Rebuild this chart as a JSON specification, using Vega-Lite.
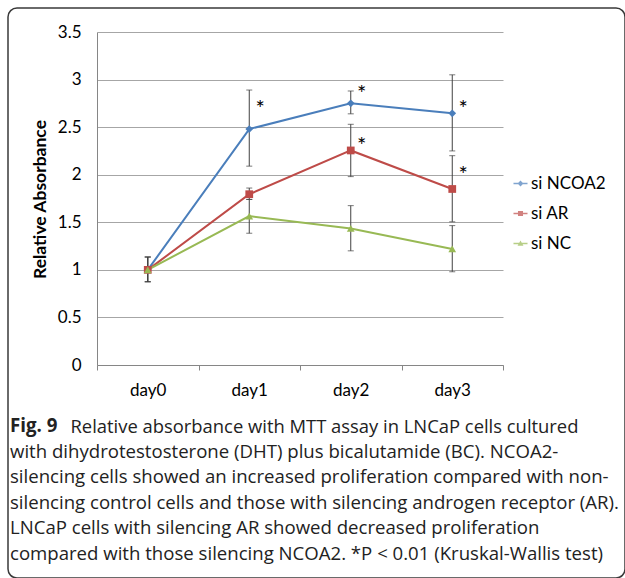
{
  "$schema": "https://vega.github.io/schema/vega-lite/v6.json",
  "width": 617,
  "height": 570,
  "autosize": "none",
  "padding": {"left": 8, "top": 8, "right": 0, "bottom": 0},
  "background": "white",
  "view": {"stroke": "#3a3a3a", "strokeWidth": 1.5, "cornerRadius": 9, "fill": "white"},
  "title": {
    "text": "Fig. 9",
    "subtitle": [
      "with dihydrotestosterone (DHT) plus bicalutamide (BC). NCOA2-",
      "silencing cells showed an increased proliferation compared with non-",
      "silencing control cells and those with silencing androgen receptor (AR).",
      "LNCaP cells with silencing AR showed decreased proliferation",
      "compared with those silencing NCOA2. *P < 0.01 (Kruskal-Wallis test)"
    ],
    "orient": "bottom",
    "anchor": "start",
    "frame": "group",
    "offset": -161,
    "dx": 2,
    "font": "Open Sans",
    "fontSize": 18.7,
    "fontWeight": "bold",
    "color": "#222222",
    "subtitleFont": "Open Sans",
    "subtitleFontSize": 18.6,
    "subtitleFontWeight": "normal",
    "subtitleColor": "#222222",
    "subtitleLineHeight": 25.6,
    "subtitlePadding": 7
  },
  "datasets": {
    "series": [
      {"series": "si NCOA2", "day": "day0", "value": 1.0, "lo": 0.875, "hi": 1.135},
      {"series": "si NCOA2", "day": "day1", "value": 2.48, "lo": 2.09, "hi": 2.89},
      {"series": "si NCOA2", "day": "day2", "value": 2.75, "lo": 2.64, "hi": 2.88},
      {"series": "si NCOA2", "day": "day3", "value": 2.645, "lo": 2.25, "hi": 3.05},
      {"series": "si AR", "day": "day0", "value": 1.0, "lo": 0.875, "hi": 1.135},
      {"series": "si AR", "day": "day1", "value": 1.795, "lo": 1.74, "hi": 1.86},
      {"series": "si AR", "day": "day2", "value": 2.255, "lo": 1.98, "hi": 2.53},
      {"series": "si AR", "day": "day3", "value": 1.85, "lo": 1.505, "hi": 2.2},
      {"series": "si NC", "day": "day0", "value": 1.0, "lo": 0.875, "hi": 1.135},
      {"series": "si NC", "day": "day1", "value": 1.565, "lo": 1.385, "hi": 1.74},
      {"series": "si NC", "day": "day2", "value": 1.435, "lo": 1.2, "hi": 1.675},
      {"series": "si NC", "day": "day3", "value": 1.22, "lo": 0.98, "hi": 1.465}
    ],
    "stars": [
      {"day": "day1", "y": 2.755, "label": "*"},
      {"day": "day2", "y": 2.91, "label": "*"},
      {"day": "day3", "y": 2.755, "label": "*"},
      {"day": "day2", "y": 2.365, "label": "*"},
      {"day": "day3", "y": 2.06, "label": "*"}
    ]
  },
  "encoding": {
    "x": {
      "field": "day",
      "type": "nominal",
      "sort": null,
      "scale": {"type": "band", "domain": ["day0", "day1", "day2", "day3"], "range": [89, 495], "paddingInner": 0, "paddingOuter": 0},
      "axis": {
        "title": "Relative absorbance with MTT assay in LNCaP cells cultured",
        "titleFont": "Open Sans",
        "titleFontSize": 18.4,
        "titleFontWeight": "normal",
        "titleColor": "#222222",
        "titleX": 62,
        "titleY": 52,
        "titleAlign": "left",
        "titleAnchor": "start",
        "titleBaseline": "top",
        "titleLimit": 1000,
        "offset": -213,
        "tickBand": "extent",
        "tickSize": 5,
        "tickColor": "#868686",
        "domainColor": "#868686",
        "labelFont": "Lato",
        "labelFontSize": 17,
        "labelColor": "#000000",
        "labelPadding": 12,
        "labelAngle": 0,
        "grid": false
      }
    }
  },
  "layer": [
    {
      "data": {"name": "series"},
      "mark": {"type": "line", "strokeWidth": 2},
      "encoding": {
        "y": {
          "field": "value",
          "type": "quantitative",
          "scale": {"domain": [0, 3.5], "range": [357, 24], "nice": false, "zero": false},
          "axis": {"title": "Relative Absorbance", "titleFont": "Lato", "titleFontSize": 17.5, "titleFontWeight": "bold", "titleColor": "#000000", "titleX": -57, "titleY": 191, "titleAngle": -90, "titleAlign": "center", "titleBaseline": "middle", "offset": -89, "ticks": false, "values": [0, 0.5, 1, 1.5, 2, 2.5, 3, 3.5], "format": "~g", "labelFont": "Lato", "labelFontSize": 17, "labelColor": "#000000", "labelPadding": 16, "gridColor": "#a6a6a6", "domainColor": "#868686"}
        },
        "color": {
          "field": "series",
          "type": "nominal",
          "scale": {"domain": ["si NCOA2", "si AR", "si NC"], "range": ["#4A7EBB", "#BE4B48", "#98B954"]},
          "legend": null
        }
      }
    },
    {
      "data": {"name": "series"},
      "mark": {"type": "rule", "color": "#404040", "strokeWidth": 1},
      "encoding": {
        "y": {
          "field": "lo",
          "type": "quantitative",
          "scale": {"domain": [0, 3.5], "range": [357, 24], "nice": false, "zero": false},
          "axis": {"title": "Relative Absorbance", "titleFont": "Lato", "titleFontSize": 17.5, "titleFontWeight": "bold", "titleColor": "#000000", "titleX": -57, "titleY": 191, "titleAngle": -90, "titleAlign": "center", "titleBaseline": "middle", "offset": -89, "ticks": false, "values": [0, 0.5, 1, 1.5, 2, 2.5, 3, 3.5], "format": "~g", "labelFont": "Lato", "labelFontSize": 17, "labelColor": "#000000", "labelPadding": 16, "gridColor": "#a6a6a6", "domainColor": "#868686"}
        },
        "y2": {"field": "hi"}
      }
    },
    {
      "data": {"name": "series"},
      "mark": {"type": "tick", "orient": "horizontal", "size": 6, "thickness": 1, "color": "#404040"},
      "encoding": {
        "y": {
          "field": "lo",
          "type": "quantitative",
          "scale": {"domain": [0, 3.5], "range": [357, 24], "nice": false, "zero": false},
          "axis": {"title": "Relative Absorbance", "titleFont": "Lato", "titleFontSize": 17.5, "titleFontWeight": "bold", "titleColor": "#000000", "titleX": -57, "titleY": 191, "titleAngle": -90, "titleAlign": "center", "titleBaseline": "middle", "offset": -89, "ticks": false, "values": [0, 0.5, 1, 1.5, 2, 2.5, 3, 3.5], "format": "~g", "labelFont": "Lato", "labelFontSize": 17, "labelColor": "#000000", "labelPadding": 16, "gridColor": "#a6a6a6", "domainColor": "#868686"}
        }
      }
    },
    {
      "data": {"name": "series"},
      "mark": {"type": "tick", "orient": "horizontal", "size": 6, "thickness": 1, "color": "#404040"},
      "encoding": {
        "y": {
          "field": "hi",
          "type": "quantitative",
          "scale": {"domain": [0, 3.5], "range": [357, 24], "nice": false, "zero": false},
          "axis": {"title": "Relative Absorbance", "titleFont": "Lato", "titleFontSize": 17.5, "titleFontWeight": "bold", "titleColor": "#000000", "titleX": -57, "titleY": 191, "titleAngle": -90, "titleAlign": "center", "titleBaseline": "middle", "offset": -89, "ticks": false, "values": [0, 0.5, 1, 1.5, 2, 2.5, 3, 3.5], "format": "~g", "labelFont": "Lato", "labelFontSize": 17, "labelColor": "#000000", "labelPadding": 16, "gridColor": "#a6a6a6", "domainColor": "#868686"}
        }
      }
    },
    {
      "data": {"name": "series"},
      "mark": {"type": "point", "filled": true, "opacity": 1, "size": 60},
      "encoding": {
        "y": {
          "field": "value",
          "type": "quantitative",
          "scale": {"domain": [0, 3.5], "range": [357, 24], "nice": false, "zero": false},
          "axis": {"title": "Relative Absorbance", "titleFont": "Lato", "titleFontSize": 17.5, "titleFontWeight": "bold", "titleColor": "#000000", "titleX": -57, "titleY": 191, "titleAngle": -90, "titleAlign": "center", "titleBaseline": "middle", "offset": -89, "ticks": false, "values": [0, 0.5, 1, 1.5, 2, 2.5, 3, 3.5], "format": "~g", "labelFont": "Lato", "labelFontSize": 17, "labelColor": "#000000", "labelPadding": 16, "gridColor": "#a6a6a6", "domainColor": "#868686"}
        },
        "color": {
          "field": "series",
          "type": "nominal",
          "scale": {"domain": ["si NCOA2", "si AR", "si NC"], "range": ["#4A7EBB", "#BE4B48", "#98B954"]},
          "legend": null
        },
        "shape": {
          "field": "series",
          "type": "nominal",
          "scale": {"domain": ["si NCOA2", "si AR", "si NC"], "range": ["diamond", "square", "triangle-up"]},
          "legend": null
        }
      }
    },
    {
      "data": {"name": "stars"},
      "mark": {"type": "text", "font": "Lato", "fontSize": 22, "color": "#000000", "baseline": "middle", "align": "center", "dx": 11, "dy": 6},
      "encoding": {
        "y": {
          "field": "y",
          "type": "quantitative",
          "scale": {"domain": [0, 3.5], "range": [357, 24], "nice": false, "zero": false},
          "axis": {"title": "Relative Absorbance", "titleFont": "Lato", "titleFontSize": 17.5, "titleFontWeight": "bold", "titleColor": "#000000", "titleX": -57, "titleY": 191, "titleAngle": -90, "titleAlign": "center", "titleBaseline": "middle", "offset": -89, "ticks": false, "values": [0, 0.5, 1, 1.5, 2, 2.5, 3, 3.5], "format": "~g", "labelFont": "Lato", "labelFontSize": 17, "labelColor": "#000000", "labelPadding": 16, "gridColor": "#a6a6a6", "domainColor": "#868686"}
        },
        "text": {"field": "label"}
      }
    },
    {
      "data": {"name": "series"},
      "transform": [{"filter": "false"}],
      "mark": {"type": "point", "filled": true},
      "encoding": {
        "y": {
          "field": "value",
          "type": "quantitative",
          "scale": {"domain": [0, 3.5], "range": [357, 24], "nice": false, "zero": false},
          "axis": {"title": "Relative Absorbance", "titleFont": "Lato", "titleFontSize": 17.5, "titleFontWeight": "bold", "titleColor": "#000000", "titleX": -57, "titleY": 191, "titleAngle": -90, "titleAlign": "center", "titleBaseline": "middle", "offset": -89, "ticks": false, "values": [0, 0.5, 1, 1.5, 2, 2.5, 3, 3.5], "format": "~g", "labelFont": "Lato", "labelFontSize": 17, "labelColor": "#000000", "labelPadding": 16, "gridColor": "#a6a6a6", "domainColor": "#868686"}
        },
        "color": {
          "field": "series",
          "type": "nominal",
          "scale": {"domain": ["si NCOA2", "si AR", "si NC"], "range": ["#4A7EBB", "#BE4B48", "#98B954"]},
          "legend": {"title": null, "orient": "none", "legendX": 504, "legendY": 167, "symbolSize": 196, "symbolStrokeWidth": 0, "labelFont": "Lato", "labelFontSize": 17, "labelColor": "#000000", "labelOffset": 2, "rowPadding": 12}
        },
        "shape": {
          "field": "series",
          "type": "nominal",
          "scale": {
            "domain": ["si NCOA2", "si AR", "si NC"],
            "range": [
              "M-1,-0.1H1V0.1H-1Z M0,-0.42L0.42,0L0,0.42L-0.42,0Z",
              "M-1,-0.1H1V0.1H-1Z M-0.36,-0.36H0.36V0.36H-0.36Z",
              "M-1,-0.1H1V0.1H-1Z M0,-0.42L0.42,0.32H-0.42Z"
            ]
          },
          "legend": {"title": null, "orient": "none", "legendX": 504, "legendY": 167, "symbolSize": 196, "symbolStrokeWidth": 0, "labelFont": "Lato", "labelFontSize": 17, "labelColor": "#000000", "labelOffset": 2, "rowPadding": 12}
        }
      }
    }
  ],
  "resolve": {"scale": {"color": "independent", "shape": "independent"}}
}
